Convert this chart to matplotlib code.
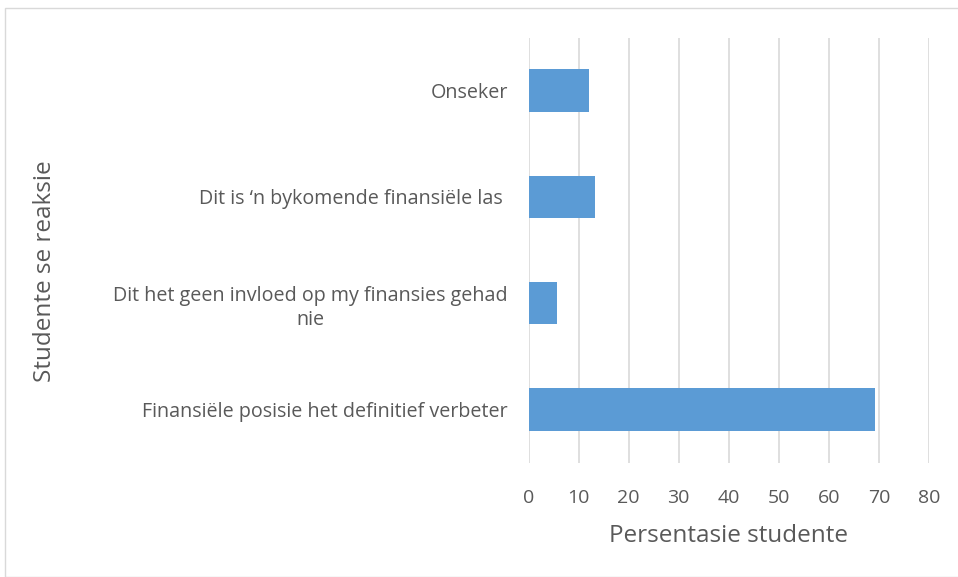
import matplotlib.pyplot as plt
from matplotlib.patches import Rectangle

# data, bottom to top as drawn
categories = [
    'Finansiële posisie het definitief verbeter',
    'Dit het geen invloed op my finansies gehad\nnie',
    'Dit is ‘n bykomende finansiële las ',
    'Onseker',
]
percentages = [69.3, 5.6, 13.2, 12.0]
x_ticks = [0, 10, 20, 30, 40, 50, 60, 70, 80]

text_col = '#595959'
plt.rcParams['font.family'] = ['Open Sans', 'DejaVu Sans']

fig = plt.figure(figsize=(9.58, 5.77), dpi=100)
ax = fig.add_axes([528.5 / 958, 1 - 462.6 / 577, (929 - 528.5) / 958, (462.6 - 37.5) / 577])

ypos = list(range(len(categories)))
ax.barh(ypos, percentages, height=0.4, color='#5B9BD5', zorder=3)

ax.set_xlim(0, 80)
ax.set_ylim(-0.5, 3.5)
ax.set_xticks(x_ticks)
ax.set_yticks(ypos)
ax.set_yticklabels(categories, fontsize=14.2, color=text_col, multialignment='center',
                   linespacing=1.3)
ax.tick_params(axis='x', labelsize=14, labelcolor=text_col, length=0, pad=19)
ax.tick_params(axis='y', length=0, pad=15)
ax.grid(axis='x', color='#D9D9D9', linewidth=1.2, zorder=0)
for s in ax.spines.values():
    s.set_visible(False)

fig.text(728.7 / 958, 1 - 536 / 577, 'Persentasie studente', fontsize=17.5,
         color=text_col, ha='center', va='center')
fig.text(45 / 958, 1 - 271 / 577, 'Studente se reaksie', rotation=90, fontsize=17.5,
         color=text_col, ha='center', va='center')

# chart area border
fig.patches.append(Rectangle((5 / 958, 0), 1, 1 - 8 / 577, transform=fig.transFigure,
                             fill=False, edgecolor='#D9D9D9', linewidth=1))

fig.savefig('out.png', dpi=100)
